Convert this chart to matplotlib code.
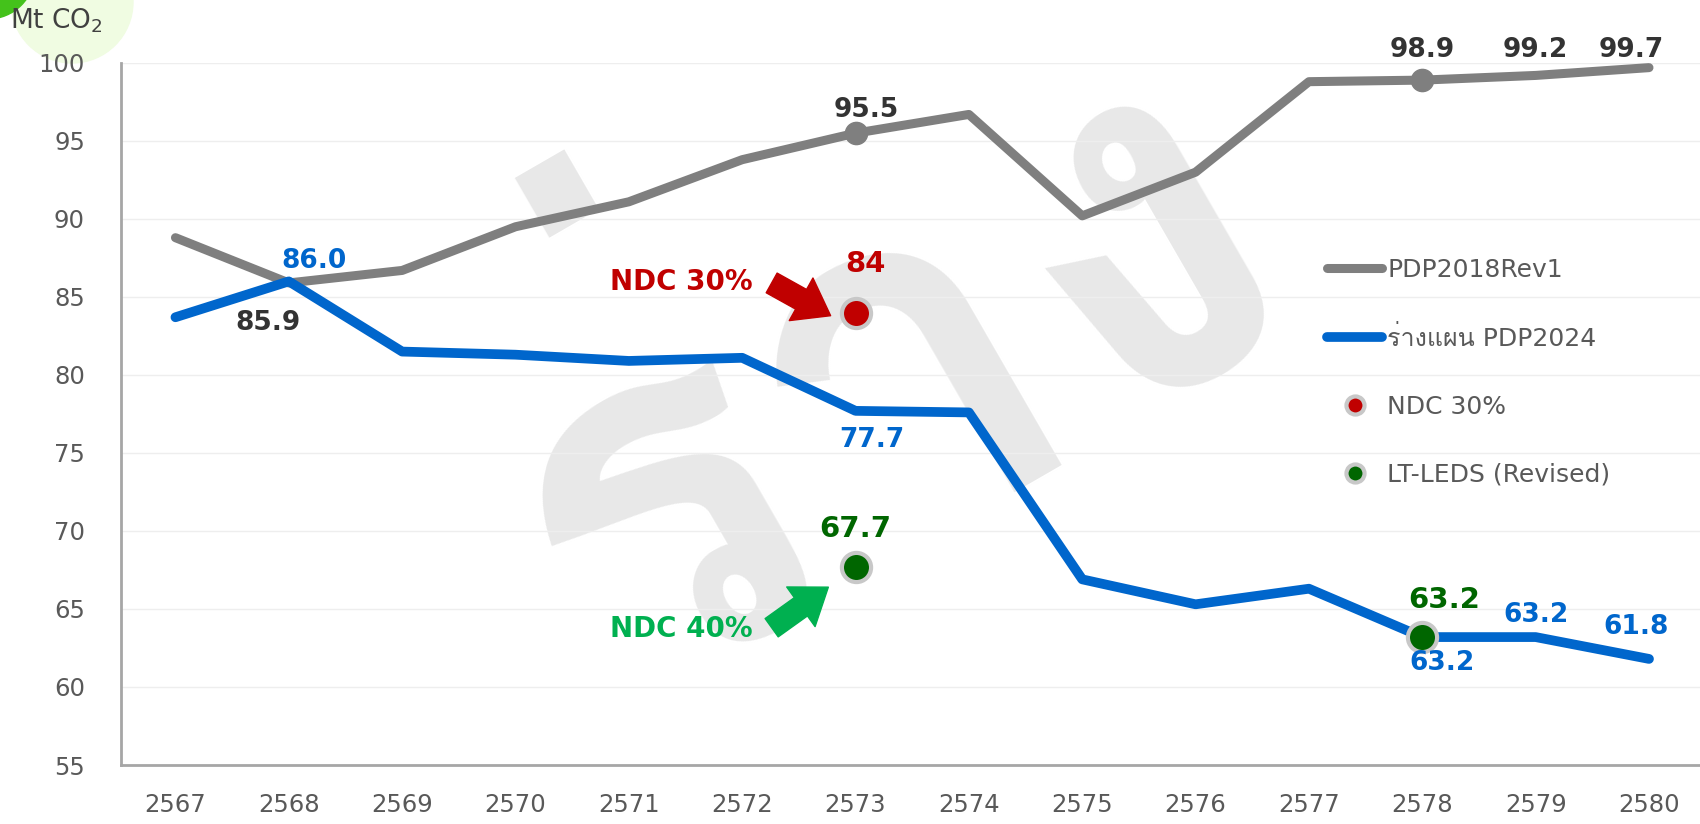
## Libraries
import numpy as np
import matplotlib
matplotlib.use("Agg")
import matplotlib.pyplot as plt
from matplotlib import font_manager
from matplotlib.ft2font import FT2Font
from matplotlib.patches import Circle

## Data
years = [2567, 2568, 2569, 2570, 2571, 2572, 2573, 2574, 2575, 2576, 2577, 2578, 2579, 2580]
pdp2018 = [88.8, 85.9, 86.7, 89.5, 91.1, 93.8, 95.5, 96.7, 90.2, 93.0, 98.8, 98.9, 99.2, 99.7]
pdp2024 = [83.7, 86.0, 81.5, 81.3, 80.9, 81.1, 77.7, 77.6, 66.9, 65.3, 66.3, 63.2, 63.2, 61.8]
ndc30_year, ndc30_value = [2573], [84]
leds_years, leds_values = [2573, 2578], [67.7, 63.2]
yticks = [55, 60, 65, 70, 75, 80, 85, 90, 95, 100]

GRAY = "#7F7F7F"
BLUE = "#0066CC"
RED = "#C00000"
DKGREEN = "#006600"
GREEN = "#00B050"
TXT = "#595959"

## find a font with Thai glyphs
thai_font = None
for f in font_manager.fontManager.ttflist:
    try:
        if 0x0E23 in FT2Font(f.fname).get_charmap():
            thai_font = f.name
            break
    except Exception:
        pass
fams = ["DejaVu Sans"] + ([thai_font] if thai_font else [])
plt.rcParams["font.family"] = fams

fig = plt.figure(figsize=(17, 8.24), dpi=100)
ax = fig.add_axes([0.0712, 0.0716, 0.9288, 0.852])
ax.patch.set_alpha(0)

# corner decoration (inches), drawn under the axes
fig.patches.append(Circle((0.72, 8.22), 0.61, transform=fig.dpi_scale_trans,
                          color="#F0FCE2", zorder=-2))
fig.patches.append(Circle((-0.12, 8.52), 0.47, transform=fig.dpi_scale_trans,
                          color="#44C21B", zorder=-1))

# watermark
ax.text(2573.25, 80.8, "ร่าง", fontsize=365, color="#E8E8E8", rotation=30,
        ha="center", va="center", zorder=0, family=fams[::-1], fontweight="bold")

ax.plot(years, pdp2018, color=GRAY, lw=6.5, solid_capstyle="round",
        label="PDP2018Rev1", zorder=3)
ax.plot(years, pdp2024, color=BLUE, lw=7, solid_capstyle="round",
        label="ร่างแผน PDP2024", zorder=3)
for i in [6, 11]:
    ax.plot(years[i], pdp2018[i], "o", color=GRAY, ms=16, zorder=4)
ax.plot(ndc30_year, ndc30_value, "o", color=RED, mec="#C8C8C8", mew=3, ms=21,
        ls="none", label="NDC 30%", zorder=5)
ax.plot(leds_years, leds_values, "o", color=DKGREEN, mec="#C8C8C8", mew=3, ms=21,
        ls="none", label="LT-LEDS (Revised)", zorder=5)

def lab(x, y, s, c, dx, dy, size=19):
    ax.annotate(s, (x, y), xytext=(dx, dy), textcoords="offset points",
                ha="center", va="center", fontsize=size, fontweight="bold",
                color=c, zorder=6)

lab(2568, 85.9, "85.9", "#333333", -15, -29)
lab(2573, 95.5, "95.5", "#333333", 8, 17)
lab(2578, 98.9, "98.9", "#333333", 0, 22)
lab(2579, 99.2, "99.2", "#333333", 0, 18)
lab(2580, 99.7, "99.7", "#333333", -13, 13)
lab(2568, 86.0, "86.0", BLUE, 18, 15)
lab(2573, 77.7, "77.7", BLUE, 12, -21)
lab(2578, 63.2, "63.2", BLUE, 14, -19)
lab(2579, 63.2, "63.2", BLUE, 0, 16)
lab(2580, 61.8, "61.8", BLUE, -9, 23)
lab(2573, 84, "84", RED, 7, 35, 21)
lab(2573, 67.7, "67.7", DKGREEN, 0, 27, 21)
lab(2578, 63.2, "63.2", DKGREEN, 16, 27, 21)

ax.text(2571.46, 85.95, "NDC 30%", color=RED, fontsize=20, fontweight="bold",
        ha="center", va="center")
ax.text(2571.46, 63.74, "NDC 40%", color=GREEN, fontsize=20, fontweight="bold",
        ha="center", va="center")
ax.annotate("", xy=(2572.78, 83.8), xytext=(2572.26, 85.9),
            arrowprops=dict(arrowstyle="simple,head_width=1.3,head_length=0.9,tail_width=0.6",
                            color=RED, mutation_scale=27, shrinkA=0, shrinkB=0))
ax.annotate("", xy=(2572.76, 66.4), xytext=(2572.26, 63.8),
            arrowprops=dict(arrowstyle="simple,head_width=1.3,head_length=0.9,tail_width=0.6",
                            color=GREEN, mutation_scale=27, shrinkA=0, shrinkB=0))

ax.set_xlim(2566.52, 2580.45)
ax.set_ylim(55, 100)
ax.set_xticks(years)
ax.set_yticks(yticks)
ax.tick_params(length=0, labelsize=17.5, labelcolor=TXT)
ax.tick_params(axis="x", pad=20)
ax.tick_params(axis="y", pad=26)
ax.grid(axis="y", color="#EEEEEE", lw=1)
ax.set_axisbelow(True)
for s in ["top", "right"]:
    ax.spines[s].set_visible(False)
for s in ["left", "bottom"]:
    ax.spines[s].set_color("#A6A6A6")
    ax.spines[s].set_linewidth(2)

fig.text(0.006, 0.975, "Mt CO$_2$", fontsize=19, color="#404040", va="center")

ax.legend(loc="upper left", bbox_to_anchor=(0.764, 0.722), frameon=False,
          fontsize=18, labelcolor=TXT, handlelength=2.2, handletextpad=0.2,
          labelspacing=1.75, borderaxespad=0, borderpad=0, markerscale=0.62)

fig.savefig("out.png", dpi=100)
